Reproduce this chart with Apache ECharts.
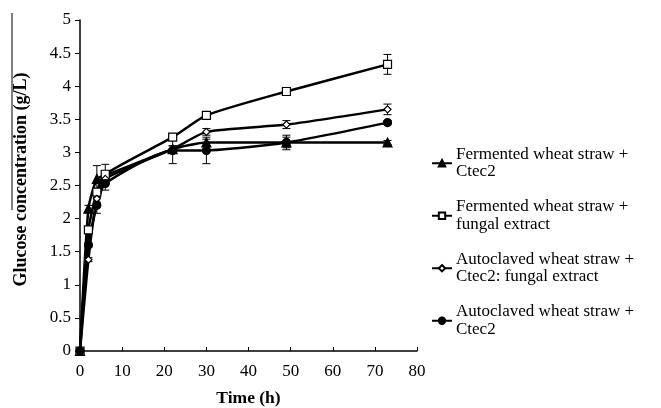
<!DOCTYPE html>
<html>
<head>
<meta charset="utf-8">
<script src="https://cdn.jsdelivr.net/npm/echarts@6/dist/echarts.min.js"></script>
<style>
  html, body { margin: 0; padding: 0; background: #fff; }
  #chart { width: 661px; height: 408px; }
</style>
</head>
<body>
<div id="chart"></div>
<script>
// sampling times (h)
const times = [0, 2, 4, 6, 22, 30, 49, 73]

// glucose concentration (g/L) and error bars
const fermCtec = [0, 2.15, 2.6, 2.65, 3.05, 3.15, 3.15, 3.15]
const fermCtecErr = [0, 0.05, 0.2, 0.05, 0.05, 0.05, 0.11, 0.03]
const fermFungal = [0, 1.83, 2.4, 2.67, 3.23, 3.56, 3.92, 4.33]
const fermFungalErr = [0, 0.03, 0.05, 0.15, 0.05, 0.03, 0.06, 0.15]
const autoMix = [0, 1.38, 2.3, 2.6, 3.05, 3.31, 3.42, 3.65]
const autoMixErr = [0, 0.03, 0.05, 0.05, 0.05, 0.05, 0.06, 0.08]
const autoCtec = [0, 1.6, 2.2, 2.53, 3.03, 3.03, 3.15, 3.45]
const autoCtecErr = [0, 0.03, 0.12, 0.1, 0.2, 0.2, 0.08, 0.03]

const names = [
  'Fermented wheat straw +\nCtec2',
  'Fermented wheat straw +\nfungal extract',
  'Autoclaved wheat straw +\nCtec2: fungal extract',
  'Autoclaved wheat straw +\nCtec2'
]

const font = 'Liberation Serif, Times New Roman, serif'

function pairs (vals) {
  return times.map((t, i) => [t, vals[i]])
}

function errSeries (vals, errs) {
  return {
    type: 'custom',
    silent: true,
    z: 1,
    data: times.map((t, i) => [t, vals[i] - errs[i], vals[i] + errs[i]]),
    renderItem (params, api) {
      const lo = api.coord([api.value(0), api.value(1)])
      const hi = api.coord([api.value(0), api.value(2)])
      const w = 4
      const st = { stroke: '#000', lineWidth: 1 }
      return {
        type: 'group',
        children: [
          { type: 'line', shape: { x1: lo[0], y1: lo[1], x2: hi[0], y2: hi[1] }, style: st },
          { type: 'line', shape: { x1: lo[0] - w, y1: lo[1], x2: lo[0] + w, y2: lo[1] }, style: st },
          { type: 'line', shape: { x1: hi[0] - w, y1: hi[1], x2: hi[0] + w, y2: hi[1] }, style: st }
        ]
      }
    }
  }
}

function lineSeries (name, vals, symbol, size, fill) {
  return {
    name: name,
    type: 'line',
    smooth: 0.2,
    z: 3,
    data: pairs(vals),
    symbol: symbol,
    symbolSize: size,
    lineStyle: { color: '#000', width: 2.5 },
    itemStyle: { color: fill, borderColor: '#000', borderWidth: 1.2 }
  }
}

const chart = echarts.init(document.getElementById('chart'))
chart.setOption({
  animation: false,
  backgroundColor: '#fff',
  grid: { left: 80, right: 244, top: 20, bottom: 57, outerBoundsMode: 'none' },
  legend: {
    orient: 'vertical',
    left: 431,
    top: 137,
    padding: 0,
    itemWidth: 20,
    itemHeight: 8,
    itemGap: 0,
    data: names,
    textStyle: {
      fontFamily: font,
      fontSize: 17,
      color: '#000',
      lineHeight: 17.5,
      padding: [17.5, 0, 0, -1]
    }
  },
  xAxis: {
    type: 'value',
    min: 0,
    max: 80,
    interval: 10,
    name: 'Time (h)',
    nameLocation: 'middle',
    nameGap: 38,
    nameTextStyle: { fontFamily: font, fontSize: 17.5, fontWeight: 'bold', color: '#000' },
    axisLine: { lineStyle: { color: '#000', width: 1.5 } },
    axisTick: { inside: true, length: 4, lineStyle: { color: '#000' } },
    axisLabel: { fontFamily: font, fontSize: 17, color: '#000', margin: 12 },
    splitLine: { show: false }
  },
  yAxis: {
    type: 'value',
    min: 0,
    max: 5,
    interval: 0.5,
    name: 'Glucose concentration (g/L)',
    nameLocation: 'middle',
    nameGap: 50,
    nameTextStyle: { fontFamily: font, fontSize: 18, fontWeight: 'bold', color: '#000', padding: [0, 0, 0, 12] },
    axisLine: { show: true, lineStyle: { color: '#000', width: 1.5 } },
    axisTick: { show: true, length: 5, lineStyle: { color: '#000' } },
    axisLabel: { fontFamily: font, fontSize: 17, color: '#000', margin: 9 },
    splitLine: { show: false }
  },
  graphic: [
    { type: 'line', shape: { x1: 12, y1: 13, x2: 12, y2: 210 }, style: { stroke: '#000', lineWidth: 1 } }
  ],
  series: [
    errSeries(fermCtec, fermCtecErr),
    errSeries(fermFungal, fermFungalErr),
    errSeries(autoMix, autoMixErr),
    errSeries(autoCtec, autoCtecErr),
    lineSeries(names[0], fermCtec, 'triangle', 9, '#000'),
    lineSeries(names[1], fermFungal, 'rect', 8, '#fff'),
    lineSeries(names[2], autoMix, 'diamond', 7, '#fff'),
    lineSeries(names[3], autoCtec, 'circle', 8, '#000')
  ]
})
</script>
</body>
</html>
